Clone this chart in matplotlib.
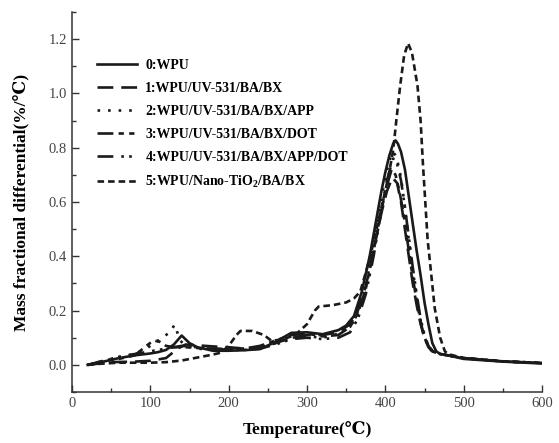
import matplotlib
matplotlib.use('Agg')
import matplotlib.pyplot as plt
from matplotlib.ticker import MultipleLocator

plt.rcParams['font.family'] = ['Liberation Serif', 'DejaVu Serif']
plt.rcParams['mathtext.fontset'] = 'custom'
plt.rcParams['mathtext.rm'] = 'Liberation Serif:bold'
plt.rcParams['mathtext.bf'] = 'Liberation Serif:bold'

labels = ['0:WPU',
          '1:WPU/UV-531/BA/BX',
          '2:WPU/UV-531/BA/BX/APP',
          '3:WPU/UV-531/BA/BX/DOT',
          '4:WPU/UV-531/BA/BX/APP/DOT',
          '5:WPU/Nano-TiO$_\\mathbf{2}$/BA/BX']

# 0: WPU
t0 = [20, 40, 60, 80, 100, 110, 120, 130, 140, 150, 160, 180, 200, 220, 240, 260, 280, 300,
      320, 340, 350, 360, 370, 380, 390, 395, 400, 405, 410, 413, 416, 420, 425, 430, 435,
      440, 445, 450, 455, 460, 465, 470, 480, 500, 550, 600]
y0 = [0.0, 0.012, 0.025, 0.035, 0.042, 0.047, 0.055, 0.075, 0.108, 0.08, 0.065, 0.052, 0.052,
      0.054, 0.058, 0.085, 0.118, 0.12, 0.113, 0.128, 0.145, 0.18, 0.27, 0.40, 0.56, 0.64,
      0.71, 0.77, 0.815, 0.827, 0.815, 0.785, 0.72, 0.62, 0.52, 0.42, 0.33, 0.23, 0.15, 0.08,
      0.05, 0.04, 0.035, 0.022, 0.012, 0.005]

# 1: WPU/UV-531/BA/BX
t1 = [20, 50, 80, 100, 120, 135, 145, 160, 180, 200, 220, 240, 260, 280, 300, 320, 340, 355,
      365, 375, 385, 395, 402, 409, 415, 420, 425, 430, 435, 440, 445, 450, 455, 460, 470,
      500, 550, 600]
y1 = [0.0, 0.01, 0.012, 0.015, 0.025, 0.06, 0.075, 0.072, 0.068, 0.065, 0.06, 0.065, 0.08,
      0.1, 0.11, 0.11, 0.12, 0.15, 0.2, 0.29, 0.42, 0.56, 0.64, 0.69, 0.67, 0.6, 0.5, 0.4,
      0.3, 0.22, 0.15, 0.1, 0.065, 0.05, 0.04, 0.025, 0.013, 0.007]

# 2: WPU/UV-531/BA/BX/APP
t2 = [20, 40, 60, 80, 95, 105, 115, 125, 131, 138, 145, 160, 180, 200, 220, 240, 260, 280,
      300, 320, 335, 350, 360, 370, 380, 390, 398, 404, 409, 414, 420, 425, 430, 435, 440,
      445, 450, 455, 460, 470, 500, 550, 600]
y2 = [0.0, 0.015, 0.028, 0.04, 0.06, 0.08, 0.1, 0.12, 0.148, 0.09, 0.07, 0.06, 0.055, 0.055,
      0.06, 0.065, 0.08, 0.1, 0.105, 0.1, 0.11, 0.13, 0.16, 0.23, 0.36, 0.52, 0.66, 0.74,
      0.785, 0.77, 0.69, 0.58, 0.46, 0.35, 0.25, 0.16, 0.1, 0.065, 0.05, 0.04, 0.025, 0.013,
      0.007]

# 3: WPU/UV-531/BA/BX/DOT
t3 = [20, 40, 60, 80, 95, 104, 112, 120, 130, 145, 160, 180, 200, 220, 240, 260, 280, 300,
      320, 340, 355, 365, 375, 385, 395, 402, 408, 413, 418, 423, 428, 433, 438, 443, 448,
      453, 460, 470, 500, 550, 600]
y3 = [0.0, 0.012, 0.022, 0.035, 0.07, 0.09, 0.085, 0.07, 0.065, 0.065, 0.062, 0.06, 0.058,
      0.06, 0.07, 0.09, 0.11, 0.115, 0.105, 0.11, 0.14, 0.19, 0.28, 0.42, 0.57, 0.66, 0.72,
      0.7, 0.64, 0.56, 0.46, 0.36, 0.27, 0.19, 0.12, 0.08, 0.052, 0.04, 0.025, 0.013, 0.007]

# 4: WPU/UV-531/BA/BX/APP/DOT
t4 = [20, 40, 60, 80, 100, 120, 140, 160, 180, 200, 220, 240, 260, 280, 300, 320, 340, 355,
      365, 375, 385, 395, 402, 410, 415, 420, 425, 430, 435, 440, 445, 450, 455, 460, 470,
      500, 550, 600]
y4 = [0.0, 0.015, 0.03, 0.04, 0.05, 0.06, 0.07, 0.065, 0.06, 0.055, 0.055, 0.06, 0.075, 0.095,
      0.1, 0.095, 0.1, 0.12, 0.17, 0.26, 0.4, 0.57, 0.68, 0.76, 0.74, 0.68, 0.58, 0.47, 0.36,
      0.26, 0.17, 0.11, 0.07, 0.05, 0.04, 0.025, 0.013, 0.007]

# 5: WPU/Nano-TiO2/BA/BX
t5 = [20, 40, 60, 80, 100, 120, 140, 160, 180, 190, 200, 210, 215, 230, 245, 255, 270, 285,
      300, 310, 315, 333, 350, 360, 368, 376, 385, 395, 403, 410, 414, 419, 424, 429, 434,
      441, 445, 448, 454, 458, 463, 470, 476, 480, 500, 550, 600]
y5 = [0.0, 0.005, 0.008, 0.008, 0.008, 0.01, 0.016, 0.027, 0.038, 0.045, 0.07, 0.11, 0.125,
      0.125, 0.11, 0.088, 0.095, 0.11, 0.15, 0.2, 0.215, 0.22, 0.23, 0.245, 0.27, 0.35, 0.45,
      0.58, 0.68, 0.79, 0.9, 1.03, 1.14, 1.185, 1.15, 1.03, 0.9, 0.74, 0.46, 0.35, 0.21, 0.1,
      0.05, 0.04, 0.025, 0.013, 0.007]

series = [(t0, y0, '-'),
          (t1, y1, (0, (6, 3))),
          (t2, y2, (0, (1, 3))),
          (t3, y3, (0, (6, 2, 2, 2, 2, 2))),
          (t4, y4, (0, (6, 3, 1, 2, 1, 3))),
          (t5, y5, (0, (2.5, 1.5)))]

fig = plt.figure(figsize=(5.59, 4.43), dpi=100)
ax = fig.add_axes([0.1288, 0.1151, 0.8408, 0.8578])

for (t, y, ls), lab in zip(series, labels):
    ax.plot(t, y, color='#1a1a1a', linestyle=ls, linewidth=1.9, label=lab)

ax.set_xlim(0, 600)
ax.set_ylim(-0.1, 1.3)
ax.xaxis.set_major_locator(MultipleLocator(100))
ax.xaxis.set_minor_locator(MultipleLocator(50))
ax.yaxis.set_major_locator(MultipleLocator(0.2))
ax.yaxis.set_minor_locator(MultipleLocator(0.1))
ax.set_yticks([0.0, 0.2, 0.4, 0.6, 0.8, 1.0, 1.2])
ax.set_yticklabels(['0.0', '0.2', '0.4', '0.6', '0.8', '1.0', '1.2'])
ax.tick_params(which='both', direction='in', width=1, colors='#333333',
               labelcolor='#444444', labelsize=10.5)
ax.tick_params(which='major', length=5)
ax.tick_params(which='minor', length=3)
ax.spines['top'].set_visible(False)
ax.spines['right'].set_visible(False)
for s in ['left', 'bottom']:
    ax.spines[s].set_linewidth(1.1)
    ax.spines[s].set_color('#333333')

ax.set_xlabel('Temperature(℃)', fontsize=12.5, fontweight='bold', labelpad=8)
ax.set_ylabel('Mass fractional differential(%/℃)', fontsize=12.5, fontweight='bold',
              labelpad=14)

leg = ax.legend(loc='upper left', bbox_to_anchor=(0.026, 0.91), frameon=False,
                prop={'weight': 'bold', 'size': 10}, handlelength=2.9,
                handletextpad=0.6, labelspacing=0.72, borderpad=0.4)

fig.savefig('out.png', dpi=100)
